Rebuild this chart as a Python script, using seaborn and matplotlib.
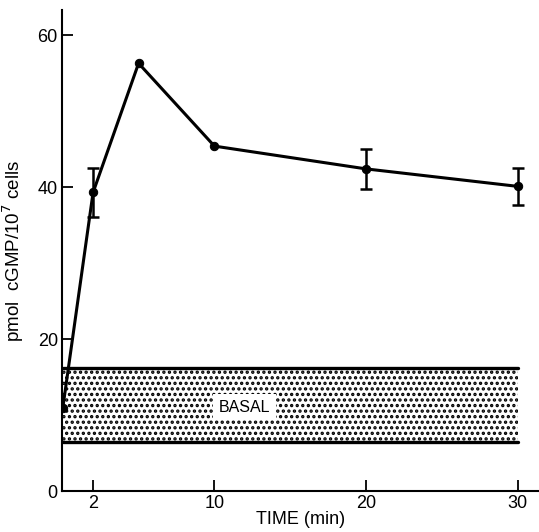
import matplotlib
matplotlib.use("Agg")
import matplotlib.pyplot as plt
import pandas as pd
import seaborn as sns

# data
time_min = [0, 2, 5, 10, 20, 30]
cgmp = [10.9, 39.3, 56.3, 45.4, 42.4, 40.1]
cgmp_err = [0, 3.2, 0, 0, 2.6, 2.4]
basal_low, basal_high = 6.4, 16.2
basal_span = [0, 30]
xticks = [2, 10, 20, 30]
yticks = [0, 20, 40, 60]

df = pd.DataFrame({"time": time_min, "cgmp": cgmp, "err": cgmp_err})

sns.set_style("ticks")
plt.rcParams["font.family"] = ["Liberation Sans", "DejaVu Sans"]
plt.rcParams["hatch.linewidth"] = 1.6
for k in ["text.color", "axes.labelcolor", "xtick.color", "ytick.color"]:
    plt.rcParams[k] = "black"

fig = plt.figure(figsize=(5.39, 5.32), dpi=100)
ax = fig.add_axes([0.115, 0.077, 0.885, 0.904])

# basal band
ax.fill_between(basal_span, basal_low, basal_high, facecolor="white",
                edgecolor="black", hatch="...", linewidth=0)
ax.plot(basal_span, [basal_high, basal_high], color="black", lw=2.4)
ax.plot(basal_span, [basal_low, basal_low], color="black", lw=2.4)
ax.text(12.0, 11.05, "BASAL", ha="center", va="center", fontsize=11.5,
        bbox=dict(facecolor="white", edgecolor="none", pad=4))

# time course
sns.lineplot(data=df, x="time", y="cgmp", ax=ax, color="black", lw=2.2,
             marker="o", markersize=6, markeredgecolor="black", zorder=3)
e = df[df["err"] > 0]
ax.errorbar(e["time"], e["cgmp"], yerr=e["err"], fmt="none", ecolor="black",
            elinewidth=1.8, capsize=4, capthick=1.8, zorder=3)

ax.set_xlim(-0.05, 31.4)
ax.set_ylim(0, 63.3)
ax.set_xticks(xticks)
ax.set_yticks(yticks)
ax.tick_params(direction="in", length=8, width=1.3, labelsize=13, pad=3)
for s in ["top", "right"]:
    ax.spines[s].set_visible(False)
for s in ["left", "bottom"]:
    ax.spines[s].set_linewidth(1.5)
    ax.spines[s].set_color("black")

ax.set_xlabel("TIME (min)", fontsize=13, labelpad=-1)
ax.set_ylabel("pmol  cGMP/10$^7$ cells", fontsize=13.5)
ax.yaxis.set_label_coords(-0.075, 0.5)

fig.savefig("out.png", dpi=100)
